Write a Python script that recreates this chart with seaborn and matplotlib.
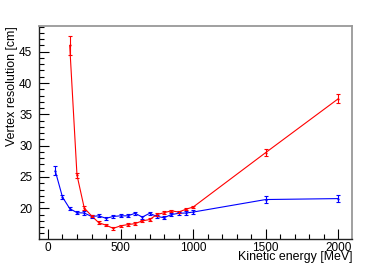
import numpy as np
import pandas as pd
import matplotlib
matplotlib.use("Agg")
import matplotlib.pyplot as plt
import seaborn as sns
from matplotlib.ticker import MultipleLocator

# Data
blue_x = [50, 100, 150, 200, 250, 300, 350, 400, 450, 500, 550, 600, 650, 700,
          750, 800, 850, 900, 950, 1000, 1500, 2000]
blue_y = [26.0, 21.8, 19.95, 19.3, 19.25, 18.7, 18.8, 18.4, 18.7, 18.8, 18.8, 19.2,
          18.6, 19.2, 18.7, 18.5, 19.0, 19.2, 19.25, 19.4, 21.4, 21.55]
blue_err = [0.7, 0.3, 0.25, 0.25, 0.25, 0.25, 0.25, 0.25, 0.25, 0.25, 0.25, 0.25,
            0.25, 0.25, 0.25, 0.25, 0.25, 0.25, 0.25, 0.25, 0.5, 0.5]

red_x = [150, 200, 250, 300, 350, 400, 450, 500, 550, 600, 650, 700, 750, 800,
         850, 900, 950, 1000, 1500, 2000]
red_y = [46.0, 25.3, 20.05, 18.8, 17.7, 17.3, 16.8, 17.2, 17.4, 17.55, 18.0, 18.2,
         19.0, 19.3, 19.6, 19.4, 19.85, 20.2, 28.9, 37.5]
red_err = [1.5, 0.4, 0.25, 0.2, 0.2, 0.2, 0.2, 0.2, 0.2, 0.2, 0.2, 0.2,
           0.2, 0.2, 0.2, 0.2, 0.2, 0.2, 0.6, 0.75]

x_label = "Kinetic energy [MeV]"
y_label = "Vertex resolution [cm]"

sns.set_theme(style="ticks")
plt.rcParams['font.family'] = ['Liberation Sans', 'DejaVu Sans']

fig = plt.figure(figsize=(3.92, 2.66), dpi=100)
ax = fig.add_axes([38.5 / 392, 1 - 239 / 266, (352.3 - 38.5) / 392, (239 - 26) / 266])

df_b = pd.DataFrame({"x": blue_x, "y": blue_y})
df_r = pd.DataFrame({"x": red_x, "y": red_y})

sns.lineplot(data=df_b, x="x", y="y", ax=ax, color="#0000ff", lw=0.8,
             marker="o", markersize=1.6, markeredgewidth=0, estimator=None)
sns.lineplot(data=df_r, x="x", y="y", ax=ax, color="#ff0000", lw=0.8,
             marker="o", markersize=1.6, markeredgewidth=0, estimator=None)
ax.errorbar(blue_x, blue_y, yerr=blue_err, fmt="none", ecolor="#0000ff",
            elinewidth=0.8, capsize=1.6, capthick=0.8)
ax.errorbar(red_x, red_y, yerr=red_err, fmt="none", ecolor="#ff0000",
            elinewidth=0.8, capsize=1.6, capthick=0.8)

ax.set_xlim(-65, 2096)
ax.set_ylim(15.1, 49.1)
ax.xaxis.set_major_locator(MultipleLocator(500))
ax.xaxis.set_minor_locator(MultipleLocator(100))
ax.yaxis.set_major_locator(MultipleLocator(5))
ax.yaxis.set_minor_locator(MultipleLocator(1))
ax.set_yticks([20, 25, 30, 35, 40, 45])

ax.tick_params(which="both", direction="in", color="black", labelsize=8.5,
               labelcolor="black", top=False, right=False)
ax.tick_params(which="major", length=7, width=0.8)
ax.tick_params(which="minor", length=3.5, width=0.8)
ax.tick_params(axis="y", pad=4.5)
ax.tick_params(axis="x", pad=2.4)

for s in ["left", "bottom"]:
    ax.spines[s].set_color("#222222")
    ax.spines[s].set_linewidth(1.0)
for s in ["top", "right"]:
    ax.spines[s].set_color("#999999")
    ax.spines[s].set_linewidth(1.3)

ax.set_xlabel(x_label, fontsize=8.9, loc="right", color="black")
ax.set_ylabel(y_label, fontsize=8.9, loc="top", color="black")
ax.xaxis.set_label_coords(1.0, -0.058)
ax.yaxis.set_label_coords(-0.065, 1.0)

fig.savefig("out.png", dpi=100, facecolor="white")
